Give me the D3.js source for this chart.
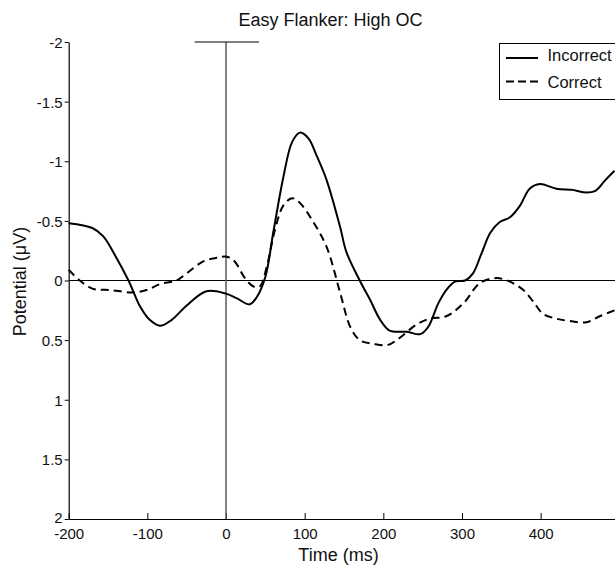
<!DOCTYPE html>
<html lang="en">
  <head>
    <meta charset="utf-8">
    <title>Easy Flanker: High OC</title>
    <script src="https://d3js.org/d3.v7.min.js"></script>
    <style>
      body { margin: 0; background: #fff; }
      svg text { font-family: "Liberation Sans", Arial, sans-serif; fill: #111; }
      .tick text { font-size: 15px; }
    </style>
  </head>
  <body>
    <div id="chart"></div>
    <script>
      // data (ms, microvolts; negative is drawn up)
      var timeIncorrect = [-200, -170, -156, -141, -124, -109, -97, -84, -69, -50, -25, 0, 14, 30, 39, 50, 60, 73, 84, 94,
                           105, 115, 128, 145, 153, 170, 183, 196, 208, 230, 247, 257, 270, 280, 291, 304, 314, 325, 336, 348,
                           361, 374, 386, 399, 420, 441, 454, 469, 482, 494];
      var incorrect = [-0.48, -0.44, -0.37, -0.21, 0, 0.22, 0.33, 0.38, 0.33, 0.21, 0.09, 0.11, 0.15, 0.20, 0.14, -0.03, -0.40, -0.87, -1.16, -1.24,
                       -1.19, -1.05, -0.84, -0.45, -0.24, 0, 0.16, 0.33, 0.42, 0.43, 0.45, 0.39, 0.19, 0.08, 0.01, 0, -0.06, -0.23, -0.40, -0.49,
                       -0.53, -0.63, -0.77, -0.81, -0.77, -0.76, -0.74, -0.75, -0.84, -0.92];

      var timeCorrect = [-200, -186, -169, -147, -120, -101, -84, -63, -50, -29, -12, 1, 11, 24, 35, 43, 52, 62, 73, 84,
                         94, 111, 128, 145, 158, 170, 187, 206, 221, 242, 259, 280, 302, 323, 344, 361, 378, 391, 403, 420,
                         437, 458, 475, 494];
      var correct = [-0.09, 0, 0.07, 0.08, 0.10, 0.08, 0.03, 0, -0.06, -0.16, -0.19, -0.20, -0.16, -0.02, 0.05, 0.05, -0.12, -0.42, -0.63, -0.69,
                     -0.65, -0.49, -0.28, 0.10, 0.39, 0.50, 0.53, 0.54, 0.48, 0.37, 0.32, 0.30, 0.19, 0.02, -0.02, 0.01, 0.08, 0.18, 0.28, 0.32,
                     0.34, 0.35, 0.30, 0.25];

      var seriesNames = ["Incorrect", "Correct"];
      var xTicks = [-200, -100, 0, 100, 200, 300, 400];
      var yTicks = [-2, -1.5, -1, -0.5, 0, 0.5, 1, 1.5, 2];
      var markerSpan = [-40, 42]; // short bar at the top of the 0 ms line

      var width = 615, height = 574;

      var svg = d3.select("#chart").append("svg")
                  .attr("width", width)
                  .attr("height", height);

      var x = d3.scaleLinear().domain([-200, 500]).range([68.7, 619.3]);
      var y = d3.scaleLinear().domain([-2, 2]).range([42, 519]);

      // x axis, ticks pointing inwards
      var xAxis = svg.append("g")
        .attr("transform", "translate(0," + y(2) + ")")
        .call(d3.axisBottom(x).tickValues(xTicks).tickSizeInner(-6).tickSizeOuter(0)
                .tickFormat(d => String(d)));
      xAxis.select(".domain").attr("stroke", "#000").attr("stroke-width", 1.2);
      xAxis.selectAll(".tick line").attr("stroke", "#000");
      xAxis.selectAll(".tick text").attr("dy", "0.71em").attr("y", 9);

      // y axis
      var yAxis = svg.append("g")
        .attr("transform", "translate(" + x(-200) + ",0)")
        .call(d3.axisLeft(y).tickValues(yTicks).tickSizeInner(4).tickSizeOuter(0).tickPadding(2)
                .tickFormat(d => String(d)));
      yAxis.select(".domain").attr("stroke", "#000").attr("stroke-width", 1.2);
      yAxis.selectAll(".tick line").attr("stroke", "#000");
      yAxis.selectAll(".tick text").attr("dy", "0.36em");
      // bottom label sits a bit higher so it clears the -200
      yAxis.selectAll(".tick text").filter(d => d === 2).attr("dy", "0.2em");

      // reference lines
      svg.append("line")
        .attr("x1", x(-200)).attr("x2", width)
        .attr("y1", y(0)).attr("y2", y(0))
        .attr("stroke", "#000").attr("stroke-width", 1);

      svg.append("line")
        .attr("x1", x(0)).attr("x2", x(0))
        .attr("y1", y(-2)).attr("y2", y(2))
        .attr("stroke", "#5a5a5a").attr("stroke-width", 1.5);

      svg.append("line")
        .attr("x1", x(markerSpan[0])).attr("x2", x(markerSpan[1]))
        .attr("y1", y(-2)).attr("y2", y(-2))
        .attr("stroke", "#000").attr("stroke-width", 1.2);

      // the two waveforms
      var line = d3.line()
                   .x(d => x(d[0]))
                   .y(d => y(d[1]))
                   .curve(d3.curveCatmullRom.alpha(0.5));

      var dataIncorrect = timeIncorrect.map((t, i) => [t, incorrect[i]]);
      var dataCorrect = timeCorrect.map((t, i) => [t, correct[i]]);

      svg.append("path")
        .datum(dataCorrect)
        .attr("d", line)
        .attr("fill", "none")
        .attr("stroke", "#000")
        .attr("stroke-width", 2)
        .attr("stroke-dasharray", "8,5");

      svg.append("path")
        .datum(dataIncorrect)
        .attr("d", line)
        .attr("fill", "none")
        .attr("stroke", "#000")
        .attr("stroke-width", 2);

      // title and labels
      svg.append("text")
        .attr("x", 330.5).attr("y", 26)
        .attr("text-anchor", "middle")
        .style("font-size", "18px")
        .text("Easy Flanker: High OC");

      svg.append("text")
        .attr("x", 338.5).attr("y", 561)
        .attr("text-anchor", "middle")
        .style("font-size", "18px")
        .text("Time (ms)");

      svg.append("text")
        .attr("transform", "translate(26,281.5) rotate(-90)")
        .attr("text-anchor", "middle")
        .style("font-size", "18px")
        .text("Potential (μV)");

      // legend
      var legend = svg.append("g");
      legend.append("rect")
        .attr("x", 499.5).attr("y", 43.5)
        .attr("width", 130).attr("height", 56)
        .attr("fill", "#fff").attr("stroke", "#000").attr("stroke-width", 1);

      legend.selectAll("line.key")
        .data(seriesNames)
        .enter()
        .append("line")
          .attr("class", "key")
          .attr("x1", 506).attr("x2", 538)
          .attr("y1", (d, i) => 58 + i * 23.5)
          .attr("y2", (d, i) => 58 + i * 23.5)
          .attr("stroke", "#000")
          .attr("stroke-width", 2)
          .attr("stroke-dasharray", (d, i) => i === 1 ? "8,4" : null);

      legend.selectAll("text.key")
        .data(seriesNames)
        .enter()
        .append("text")
          .attr("class", "key")
          .attr("x", 547.5)
          .attr("y", (d, i) => 61 + i * 27)
          .style("font-size", "16.5px")
          .text(d => d);
    </script>
  </body>
</html>
